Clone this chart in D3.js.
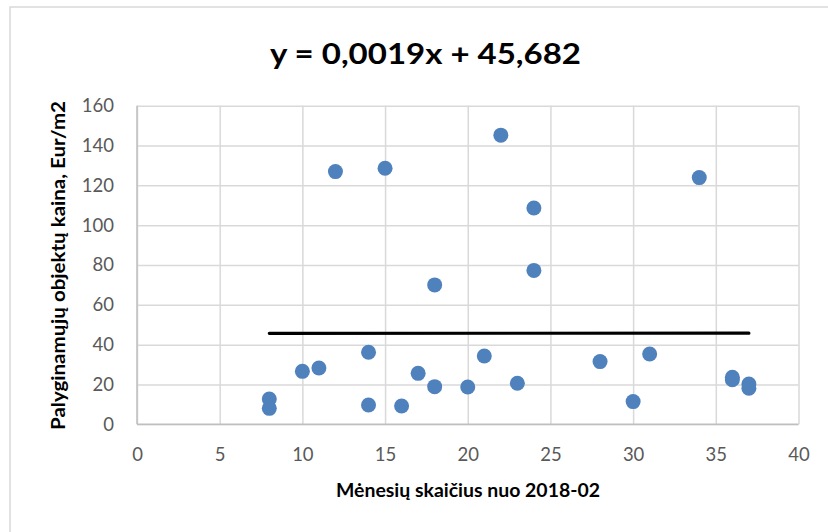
<!DOCTYPE html>
<html>
<head>
<meta charset="utf-8">
<script src="https://cdn.jsdelivr.net/npm/d3@7"></script>
<style>
  html, body { margin: 0; padding: 0; background: #fff; }
  svg { display: block; }
</style>
</head>
<body>
<script>
// Months since 2018-02 and comparable object price (Eur/m2)
const months = [8, 8, 10, 11, 12, 14, 14, 15, 16, 17, 18, 18, 20, 21, 22, 23, 24, 24, 28, 30, 31, 34, 36, 36, 37, 37];
const prices = [12.7, 8.0, 26.6, 28.3, 126.9, 36.2, 9.7, 128.6, 9.2, 25.6, 70.0, 18.9, 18.7, 34.3, 145.2, 20.6, 108.6, 77.3, 31.5, 11.4, 35.3, 123.9, 23.6, 22.4, 20.2, 18.1];

// Linear trend: y = slope * x + intercept
const slope = 0.0019;
const intercept = 45.682;
const trendRange = [8, 37];

const xTicks = [0, 5, 10, 15, 20, 25, 30, 35, 40];
const yTicks = [0, 20, 40, 60, 80, 100, 120, 140, 160];

const titleText = "y = 0,0019x + 45,682";
const xTitle = "Mėnesių skaičius nuo 2018-02";
const yTitle = "Palyginamųjų objektų kaina, Eur/m2";

const W = 828, H = 532;
const plot = { left: 137, right: 798.5, top: 105.7, bottom: 424.3 };

const svg = d3.select("body").append("svg")
  .attr("width", W).attr("height", H);

// chart frame
svg.append("rect")
  .attr("x", 10).attr("y", 7)
  .attr("width", 840).attr("height", 560)
  .attr("fill", "#fff")
  .attr("stroke", "#d9d9d9").attr("stroke-width", 1.5);

const x = d3.scaleLinear().domain([0, 40]).range([plot.left, plot.right]);
const y = d3.scaleLinear().domain([0, 160]).range([plot.bottom, plot.top]);

const font = "Lato, 'Open Sans', sans-serif";

// gridlines
svg.append("g")
  .attr("transform", `translate(0,${plot.bottom})`)
  .call(d3.axisBottom(x).tickValues(xTicks).tickSize(-(plot.bottom - plot.top)).tickFormat(""))
  .call(g => g.select(".domain").remove())
  .call(g => g.selectAll("line").attr("stroke", "#d9d9d9").attr("stroke-width", 1.5));

svg.append("g")
  .attr("transform", `translate(${plot.left},0)`)
  .call(d3.axisLeft(y).tickValues(yTicks).tickSize(-(plot.right - plot.left)).tickFormat(""))
  .call(g => g.select(".domain").remove())
  .call(g => g.selectAll("line").attr("stroke", "#d9d9d9").attr("stroke-width", 1.5));

// axis lines
svg.append("line")
  .attr("x1", plot.left).attr("x2", plot.right)
  .attr("y1", plot.bottom).attr("y2", plot.bottom)
  .attr("stroke", "#bfbfbf").attr("stroke-width", 1.5);
svg.append("line")
  .attr("x1", plot.left).attr("x2", plot.left)
  .attr("y1", plot.top).attr("y2", plot.bottom)
  .attr("stroke", "#bfbfbf").attr("stroke-width", 1.5);

// tick labels
const xAxis = svg.append("g")
  .attr("transform", `translate(0,${plot.bottom})`)
  .call(d3.axisBottom(x).tickValues(xTicks).tickSize(0).tickPadding(24).tickFormat(d3.format("d")));
xAxis.select(".domain").remove();
xAxis.selectAll("text")
  .attr("font-family", font).attr("font-size", 18.5).attr("fill", "#595959");

const yAxis = svg.append("g")
  .attr("transform", `translate(${plot.left},0)`)
  .call(d3.axisLeft(y).tickValues(yTicks).tickSize(0).tickPadding(23).tickFormat(d3.format("d")));
yAxis.select(".domain").remove();
yAxis.selectAll("text")
  .attr("font-family", font).attr("font-size", 18.5).attr("fill", "#595959");

// points
svg.append("g")
  .selectAll("circle")
  .data(months.map((m, i) => ({ m, p: prices[i] })))
  .join("circle")
  .attr("cx", d => x(d.m))
  .attr("cy", d => y(d.p))
  .attr("r", 7.5)
  .attr("fill", "#4F81BD");

// trend line
svg.append("line")
  .attr("x1", x(trendRange[0])).attr("y1", y(slope * trendRange[0] + intercept))
  .attr("x2", x(trendRange[1])).attr("y2", y(slope * trendRange[1] + intercept))
  .attr("stroke", "#000").attr("stroke-width", 3.2).attr("stroke-linecap", "round");

// titles
svg.append("text")
  .attr("x", 425.5).attr("y", 64)
  .attr("text-anchor", "middle")
  .attr("font-family", font).attr("font-weight", "bold").attr("font-size", 29)
  .attr("textLength", 311).attr("lengthAdjust", "spacingAndGlyphs")
  .attr("fill", "#000")
  .text(titleText);

svg.append("text")
  .attr("x", 468).attr("y", 497)
  .attr("text-anchor", "middle")
  .attr("font-family", font).attr("font-weight", "bold").attr("font-size", 18)
  .attr("textLength", 264).attr("lengthAdjust", "spacingAndGlyphs")
  .attr("fill", "#000")
  .text(xTitle);

svg.append("text")
  .attr("transform", "translate(65,265.5) rotate(-90)")
  .attr("text-anchor", "middle")
  .attr("font-family", font).attr("font-weight", "bold").attr("font-size", 18)
  .attr("textLength", 329).attr("lengthAdjust", "spacingAndGlyphs")
  .attr("fill", "#000")
  .text(yTitle);
</script>
</body>
</html>
